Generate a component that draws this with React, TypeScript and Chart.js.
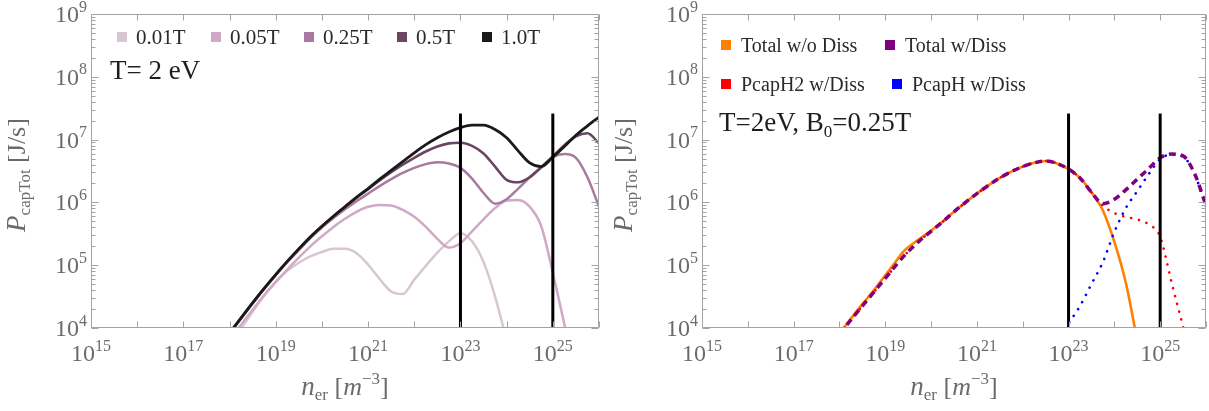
import React, { useEffect, useRef } from 'react';
import { Chart, registerables } from 'chart.js';

Chart.register(...registerables);

const SERIF = '"Liberation Serif", "Times New Roman", Times, serif';
const TICK_GRAY = '#6b6b6b';
const FRAME_GRAY = '#a3a3a3';

// ---------------- data (log10 values) ----------------
// electron density grid, log10(n_er / m^-3)
const logDensity = [
  18.0, 18.25, 18.5, 18.75, 19.0, 19.25, 19.5, 19.75, 20.0, 20.25, 20.5,
  20.75, 21.0, 21.25, 21.5, 21.75, 22.0, 22.25, 22.5, 22.75, 23.0, 23.25,
  23.5, 23.75, 24.0, 24.25, 24.5, 24.75, 25.0, 25.25, 25.5, 25.75, 26.0,
];

const fieldLabels = ['0.01T', '0.05T', '0.25T', '0.5T', '1.0T'];

// log10(P_capTot / (J/s)), left panel
const logP_B001 = [
  3.72, 3.99, 4.26, 4.52, 4.74, 4.91, 5.04, 5.14, 5.21, 5.26, 5.26,
  5.19, 5.01, 4.78, 4.58, 4.54, 4.77, 4.99, 5.2, 5.38, 5.51, 5.38,
  5.05, 4.5, 3.8, null, null, null, null, null, null, null, null,
];
const logP_B005 = [
  3.8, 4.05, 4.29, 4.52, 4.73, 4.93, 5.12, 5.3, 5.46, 5.61, 5.74,
  5.85, 5.93, 5.96, 5.95, 5.88, 5.77, 5.61, 5.42, 5.28, 5.35, 5.54,
  5.73, 5.91, 6.03, 6.04, 5.93, 5.62, 4.88, 4.06, 3.2, null, null,
];
const logP_B025 = [
  3.91, 4.15, 4.39, 4.62, 4.84, 5.05, 5.24, 5.43, 5.6, 5.75, 5.89,
  6.02, 6.14, 6.26, 6.37, 6.47, 6.55, 6.61, 6.64, 6.62, 6.55, 6.38,
  6.15, 5.98, 6.05, 6.22, 6.4, 6.56, 6.72, 6.77, 6.71, 6.4, 5.93,
];
const logP_B05 = [
  3.92, 4.16, 4.4, 4.63, 4.85, 5.06, 5.26, 5.45, 5.62, 5.78, 5.93,
  6.08, 6.21, 6.35, 6.48, 6.6, 6.71, 6.81, 6.89, 6.94, 6.95, 6.9,
  6.78, 6.57, 6.36, 6.32, 6.4, 6.56, 6.73, 6.91, 7.05, 7.1, 6.94,
];
const logP_B10 = [
  3.92, 4.16, 4.4, 4.63, 4.85, 5.06, 5.26, 5.45, 5.62, 5.78, 5.93,
  6.08, 6.22, 6.37, 6.51, 6.65, 6.79, 6.92, 7.03, 7.12, 7.19, 7.23,
  7.23, 7.16, 7.03, 6.82, 6.63, 6.57, 6.72, 6.89, 7.07, 7.22, 7.36,
];

// vertical reference lines
const markerDensities = [1e23, 1e25];
const markerBottom = 1e4;
const markerTop = 2.6e7;

// right panel
const rightLogDensity = [
  18.0, 18.25, 18.5, 18.75, 19.0, 19.2, 19.4, 19.75, 20.0, 20.25, 20.5,
  20.75, 21.0, 21.25, 21.5, 21.75, 22.0, 22.25, 22.5, 22.75, 23.0, 23.25,
  23.5, 23.75, 24.0, 24.25, 24.5, 24.75, 25.0, 25.25, 25.5, 25.75, 26.0,
];
const rightLabels = ['Total w/o Diss', 'Total w/Diss', 'PcapH2 w/Diss', 'PcapH w/Diss'];
const logP_totalNoDiss = [
  3.91, 4.15, 4.38, 4.6, 4.84, 5.03, 5.22, 5.42, 5.55, 5.69, 5.85,
  6.0, 6.14, 6.27, 6.39, 6.49, 6.57, 6.63, 6.66, 6.62, 6.53, 6.39,
  6.16, 5.87, 5.37, 4.72, 3.8, null, null, null, null, null, null,
];
const logP_totalDiss = [
  3.9, 4.13, 4.35, 4.57, 4.79, 4.97, 5.14, 5.39, 5.54, 5.69, 5.85,
  6.0, 6.14, 6.27, 6.39, 6.49, 6.57, 6.63, 6.66, 6.62, 6.53, 6.39,
  6.16, 5.98, 6.05, 6.2, 6.37, 6.54, 6.71, 6.77, 6.74, 6.46, 5.95,
];
const logP_capH2 = [
  3.9, 4.13, 4.35, 4.57, 4.79, 4.97, 5.14, 5.39, 5.54, 5.69, 5.85,
  6.0, 6.14, 6.27, 6.39, 6.49, 6.57, 6.63, 6.66, 6.62, 6.53, 6.39,
  6.16, 5.95, 5.83, 5.77, 5.73, 5.65, 5.45, 4.72, 4.02, 3.3, null,
];
const logP_capH = [
  null, null, null, null, null, null, null, null, null, null, null,
  null, null, null, null, null, null, null, null, 3.75, 4.07, 4.35,
  4.7, 5.05, 5.53, 5.91, 6.18, 6.45, 6.69, 6.76, 6.73, 6.45, 5.94,
];

// axes
const xMinExp = 15;
const xMaxExp = 26;
const yMinExp = 4;
const yMaxExp = 9;
const xTickExps = [15, 16, 17, 18, 19, 20, 21, 22, 23, 24, 25, 26];
const xLabelExps = [15, 17, 19, 21, 23, 25];
const yTickExps = [4, 5, 6, 7, 8, 9];
const yMinorMultipliers = [2, 3, 4, 5, 6, 7, 8, 9];

// ---------------- helpers ----------------
const toPoints = (logN: number[], logP: (number | null)[]) =>
  logN.flatMap((ln, i) => {
    const v = logP[i];
    return v == null ? [] : [{ x: Math.pow(10, ln), y: Math.pow(10, v) }];
  });

type Seg = { t: string; font: string; dy?: number };

function segWidth(ctx: CanvasRenderingContext2D, segs: Seg[]) {
  let w = 0;
  for (const s of segs) {
    ctx.font = s.font;
    w += ctx.measureText(s.t).width;
  }
  return w;
}

function drawSegs(
  ctx: CanvasRenderingContext2D,
  segs: Seg[],
  x: number,
  y: number,
  align: 'left' | 'center' | 'right',
) {
  const w = segWidth(ctx, segs);
  let cx = align === 'left' ? x : align === 'center' ? x - w / 2 : x - w;
  ctx.textAlign = 'left';
  ctx.textBaseline = 'alphabetic';
  for (const s of segs) {
    ctx.font = s.font;
    ctx.fillText(s.t, cx, y + (s.dy || 0));
    cx += ctx.measureText(s.t).width;
  }
}

const f = (size: number, italic = false) => `${italic ? 'italic ' : ''}${size}px ${SERIF}`;

const powSegs = (exp: number): Seg[] => [
  { t: '10', font: f(24) },
  { t: String(exp), font: f(16), dy: -10.5 },
];

type LegendEntry = { label: string; color: string; x: number; y: number };
type DecorCfg = {
  yTitleX: number;
  legend: LegendEntry[];
  legendFont: number;
  legendTextGap: number;
  note: Seg[];
  noteX: number;
  noteY: number;
};

function makeDecor(cfg: DecorCfg) {
  return {
    id: 'decor',
    afterDraw(chart: any) {
      const { ctx, chartArea: a, scales } = chart;
      const xs = scales.x;
      const ys = scales.y;
      ctx.save();
      // frame
      ctx.strokeStyle = FRAME_GRAY;
      ctx.lineWidth = 1;
      const L = Math.round(a.left) + 0.5;
      const R = Math.round(a.right) - 0.5;
      const T = Math.round(a.top) + 0.5;
      const B = Math.round(a.bottom) - 0.5;
      ctx.beginPath();
      ctx.rect(L, T, R - L, B - T);
      ctx.stroke();
      // ticks
      ctx.beginPath();
      for (const e of yTickExps) {
        const y = Math.round(ys.getPixelForValue(Math.pow(10, e))) + 0.5;
        ctx.moveTo(L, y); ctx.lineTo(L + 7, y);
        ctx.moveTo(R, y); ctx.lineTo(R - 7, y);
        if (e < yMaxExp) {
          for (const m of yMinorMultipliers) {
            const ym = Math.round(ys.getPixelForValue(m * Math.pow(10, e))) + 0.5;
            ctx.moveTo(L, ym); ctx.lineTo(L + 4, ym);
            ctx.moveTo(R, ym); ctx.lineTo(R - 4, ym);
          }
        }
      }
      for (const e of xTickExps) {
        const x = Math.round(xs.getPixelForValue(Math.pow(10, e))) + 0.5;
        ctx.moveTo(x, B); ctx.lineTo(x, B - 6);
        ctx.moveTo(x, T); ctx.lineTo(x, T + 6);
      }
      ctx.stroke();

      // tick labels
      ctx.fillStyle = TICK_GRAY;
      for (const e of yTickExps) {
        const y = ys.getPixelForValue(Math.pow(10, e));
        drawSegs(ctx, powSegs(e), a.left - 4, y + 8, 'right');
      }
      for (const e of xLabelExps) {
        const x = xs.getPixelForValue(Math.pow(10, e));
        drawSegs(ctx, powSegs(e), x, a.bottom + 33, 'center');
      }

      // axis titles
      ctx.save();
      ctx.translate(cfg.yTitleX, (a.top + a.bottom) / 2 + 4);
      ctx.rotate(-Math.PI / 2);
      drawSegs(
        ctx,
        [
          { t: 'P', font: f(27, true) },
          { t: 'capTot', font: f(17), dy: 5 },
          { t: ' [J/s]', font: f(26) },
        ],
        0,
        0,
        'center',
      );
      ctx.restore();
      drawSegs(
        ctx,
        [
          { t: 'n', font: f(27, true) },
          { t: 'er', font: f(17), dy: 5 },
          { t: ' [', font: f(26) },
          { t: 'm', font: f(26, true) },
          { t: '\u22123', font: f(17), dy: -11 },
          { t: ']', font: f(26) },
        ],
        (a.left + a.right) / 2,
        a.bottom + 67,
        'center',
      );

      // legend
      for (const it of cfg.legend) {
        ctx.fillStyle = it.color;
        ctx.fillRect(it.x, it.y - 5, 10, 10);
        ctx.fillStyle = '#2a2a2a';
        drawSegs(ctx, [{ t: it.label, font: f(cfg.legendFont) }], it.x + cfg.legendTextGap, it.y + 7, 'left');
      }
      // note
      ctx.fillStyle = '#1e1e1e';
      drawSegs(ctx, cfg.note, cfg.noteX, cfg.noteY, 'left');
      ctx.restore();
    },
  };
}

function markerSets() {
  return markerDensities.map((n) => ({
    label: 'marker',
    data: [
      { x: n, y: markerBottom },
      { x: n, y: markerTop },
    ],
    borderColor: '#000000',
    borderWidth: 3,
    pointRadius: 0,
    order: 0,
  }));
}

function baseOptions(padding: any) {
  return {
    responsive: false,
    animation: false as const,
    devicePixelRatio: 1,
    layout: { padding },
    plugins: { legend: { display: false }, tooltip: { enabled: false } },
    elements: { point: { radius: 0 } },
    scales: {
      x: { type: 'logarithmic' as const, min: Math.pow(10, xMinExp), max: Math.pow(10, xMaxExp), display: false },
      y: { type: 'logarithmic' as const, min: Math.pow(10, yMinExp), max: Math.pow(10, yMaxExp), display: false },
    },
  };
}

const leftColors = ['#d9c6d3', '#cfa9c6', '#a97a9f', '#6a4663', '#1a1a1a'];
const leftWidths = [2.5, 2.5, 2.5, 2.6, 2.8];
const leftSeries = [logP_B001, logP_B005, logP_B025, logP_B05, logP_B10];
const leftLegendX = [117, 211, 304, 397, 482];

const rightColors = ['#ff8000', '#800080', '#ff0000', '#0000ff'];
const rightLegendPos = [
  { x: 721, y: 45 },
  { x: 885, y: 45 },
  { x: 721, y: 84 },
  { x: 892, y: 84 },
];

export default function App() {
  const leftRef = useRef<HTMLCanvasElement>(null);
  const rightRef = useRef<HTMLCanvasElement>(null);

  useEffect(() => {
    const leftDatasets: any[] = [
      ...markerSets(),
      ...leftSeries.map((s, i) => ({
        label: fieldLabels[i],
        data: toPoints(logDensity, s),
        borderColor: leftColors[i],
        backgroundColor: leftColors[i],
        borderWidth: leftWidths[i],
        pointRadius: 0,
        cubicInterpolationMode: 'monotone',
        order: 5 - i,
      })),
    ];
    const left = new Chart(leftRef.current as HTMLCanvasElement, {
      type: 'line',
      data: { datasets: leftDatasets },
      options: baseOptions({ left: 91, top: 14, right: 5, bottom: 83 }) as any,
      plugins: [
        makeDecor({
          yTitleX: 25,
          legend: fieldLabels.map((l, i) => ({ label: l, color: leftColors[i], x: leftLegendX[i], y: 37 })),
          legendFont: 21,
          legendTextGap: 19,
          note: [{ t: 'T= 2 eV', font: f(27) }],
          noteX: 110,
          noteY: 79,
        }),
      ],
    });

    const off = 604;
    const rightDatasets: any[] = [
      ...markerSets(),
      {
        label: rightLabels[1],
        data: toPoints(rightLogDensity, logP_totalDiss),
        borderColor: rightColors[1],
        borderWidth: 3.5,
        borderDash: [7, 5],
        pointRadius: 0,
        cubicInterpolationMode: 'monotone',
        order: 2,
      },
      {
        label: rightLabels[2],
        data: toPoints(rightLogDensity, logP_capH2),
        borderColor: rightColors[2],
        borderWidth: 2.6,
        borderDash: [0.1, 8],
        borderCapStyle: 'round',
        pointRadius: 0,
        cubicInterpolationMode: 'monotone',
        order: 3,
      },
      {
        label: rightLabels[3],
        data: toPoints(rightLogDensity, logP_capH),
        borderColor: rightColors[3],
        borderWidth: 2.6,
        borderDash: [0.1, 8],
        borderCapStyle: 'round',
        pointRadius: 0,
        cubicInterpolationMode: 'monotone',
        order: 3,
      },
      {
        label: rightLabels[0],
        data: toPoints(rightLogDensity, logP_totalNoDiss),
        borderColor: rightColors[0],
        borderWidth: 2.6,
        pointRadius: 0,
        cubicInterpolationMode: 'monotone',
        order: 4,
      },
    ];
    const right = new Chart(rightRef.current as HTMLCanvasElement, {
      type: 'line',
      data: { datasets: rightDatasets },
      options: baseOptions({ left: 98, top: 14, right: 3, bottom: 83 }) as any,
      plugins: [
        makeDecor({
          yTitleX: 632 - off,
          legend: rightLabels.map((l, i) => ({
            label: l,
            color: rightColors[i],
            x: rightLegendPos[i].x - off,
            y: rightLegendPos[i].y,
          })),
          legendFont: 20,
          legendTextGap: 20,
          note: [
            { t: 'T=2eV, B', font: f(27) },
            { t: '0', font: f(17), dy: 6 },
            { t: '=0.25T', font: f(27) },
          ],
          noteX: 719 - off,
          noteY: 131,
        }),
      ],
    });
    return () => {
      left.destroy();
      right.destroy();
    };
  }, []);

  return (
    <div
      style={{
        position: 'absolute',
        left: 0,
        top: 0,
        width: 1209,
        height: 411,
        background: '#ffffff',
        overflow: 'hidden',
      }}
    >
      <canvas
        ref={leftRef}
        width={604}
        height={411}
        style={{ position: 'absolute', left: 0, top: 0, width: 604, height: 411 }}
      />
      <canvas
        ref={rightRef}
        width={605}
        height={411}
        style={{ position: 'absolute', left: 604, top: 0, width: 605, height: 411 }}
      />
    </div>
  );
}
